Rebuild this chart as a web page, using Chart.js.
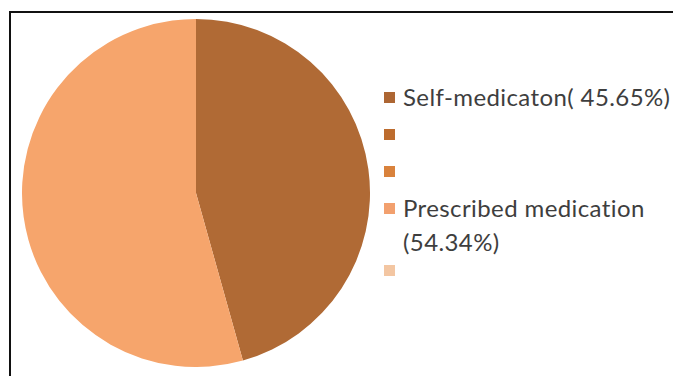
<!DOCTYPE html>
<html>
<head>
<meta charset="utf-8">
<script src="https://cdn.jsdelivr.net/npm/chart.js@4"></script>
<style>
    body { margin: 0; background: #fff; }
    #wrap { position: relative; width: 673px; height: 376px; overflow: hidden; }
    #frame { position: absolute; left: 9px; top: 11px; width: 700px; height: 400px;
        border-left: 2px solid #111; border-top: 2px solid #111; }
    #pieBox { position: absolute; left: 22px; top: 19px; width: 348px; height: 348px; }
    #legend { position: absolute; left: 384px; top: 80px; font-family: Lato, sans-serif;
        font-size: 24px; letter-spacing: 0.4px; color: #3e3e3e; line-height: 34px; }
    .item { display: flex; align-items: flex-start; margin-bottom: 3px; }
    .item:nth-child(4) { margin-bottom: -6px; }
    .box { width: 11px; height: 11px; margin-top: 12px; margin-right: 8px; flex: none; }
    .item span { min-height: 34px; white-space: nowrap; }
</style>
</head>
<body>
<div id="wrap">
    <div id="frame"></div>
    <div id="pieBox"><canvas id="pie"></canvas></div>
    <div id="legend"></div>
</div>
<script>
// categories (legend rows) and their shares
const labels = ['Self-medicaton( 45.65%)', '', '', 'Prescribed medication\n(54.34%)', ''];
const values = [45.65, 0, 0, 54.34, 0];
const colors = ['#ad6633', '#bd6c2e', '#d9823c', '#f2a06e', '#f3c6a2'];
const sliceColors = ['#b06a35', '#bd6c2e', '#d9823c', '#f6a56c', '#f3c6a2'];

// legend on the right, built from the same arrays
const legend = document.getElementById('legend');
labels.forEach((text, i) => {
    const row = document.createElement('div');
    row.className = 'item';
    const box = document.createElement('div');
    box.className = 'box';
    box.style.background = colors[i];
    const span = document.createElement('span');
    span.innerHTML = text.split('\n').join('<br>');
    row.appendChild(box);
    row.appendChild(span);
    legend.appendChild(row);
});

const ctx = document.getElementById('pie').getContext('2d');
new Chart(ctx, {
    type: 'pie',
    data: {
        labels: labels,
        datasets: [{
            data: values,
            backgroundColor: sliceColors,
            borderWidth: 0
        }]
    },
    options: {
        responsive: true,
        maintainAspectRatio: false,
        animation: false,
        layout: { padding: 0 },
        plugins: {
            legend: { display: false },
            tooltip: { enabled: false }
        }
    }
});
</script>
</body>
</html>
